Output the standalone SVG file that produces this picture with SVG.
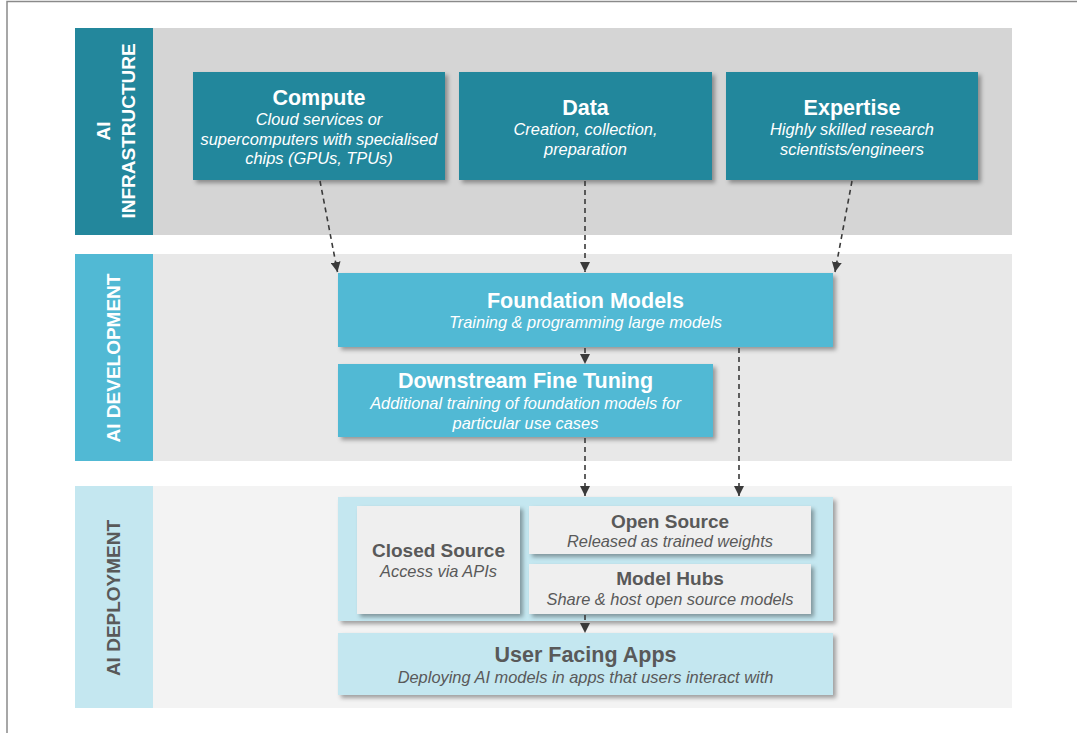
<svg xmlns="http://www.w3.org/2000/svg" width="1077" height="733" viewBox="0 0 1077 733">
<defs>
<filter id="sh" x="-10%" y="-10%" width="125%" height="135%">
<feDropShadow dx="3" dy="3" stdDeviation="2" flood-color="#000" flood-opacity="0.35"/>
</filter>
<marker id="ah" markerUnits="userSpaceOnUse" markerWidth="10" markerHeight="10" refX="10" refY="5" orient="auto">
<path d="M0,0 L10,5 L0,10 z" fill="#3a3a3a"/>
</marker>
</defs>
<style>
text{font-family:"Liberation Sans",Arial,sans-serif;text-anchor:middle}
.lbl{font-size:19px;font-weight:bold}
.t{font-size:21.5px;font-weight:bold;fill:#fff}
.s{font-size:16.4px;font-style:italic;fill:#fff}
.tg{font-size:19px;font-weight:bold;fill:#595959}
.tgl{font-size:21.5px;font-weight:bold;fill:#595959}
.sg{font-size:16.4px;font-style:italic;fill:#595959}
.c{stroke:#3a3a3a;stroke-width:1.6;stroke-dasharray:5 4;fill:none;marker-end:url(#ah)}
</style>
<rect width="1077" height="733" fill="#fff"/>
<path d="M7,733 V1.5 H1077" fill="none" stroke="#8a8a8a" stroke-width="1.5"/>

<g id="band-infrastructure">
<rect x="75" y="28" width="937" height="207" fill="#d5d5d5"/>
<rect x="75" y="28" width="78" height="207" fill="#23879c"/>
<text class="lbl" fill="#fff" transform="translate(110,131) rotate(-90)">AI</text>
<text class="lbl" fill="#fff" transform="translate(135,131) rotate(-90)">INFRASTRUCTURE</text>
</g>
<g id="band-development">
<rect x="75" y="254" width="937" height="207" fill="#e8e8e8"/>
<rect x="75" y="254" width="78" height="207" fill="#51b9d4"/>
<text class="lbl" fill="#fff" transform="translate(120,358) rotate(-90)">AI DEVELOPMENT</text>
</g>
<g id="band-deployment">
<rect x="75" y="486" width="937" height="222" fill="#f3f3f3"/>
<rect x="75" y="486" width="78" height="222" fill="#c4e7f0"/>
<text class="lbl" fill="#595959" transform="translate(120,598) rotate(-90)">AI DEPLOYMENT</text>
</g>

<g id="compute">
<rect x="193" y="72" width="252" height="108" fill="#23879c" filter="url(#sh)"/>
<text class="t" x="319" y="105">Compute</text>
<text class="s" x="319" y="125">Cloud services or</text>
<text class="s" x="319" y="144.5">supercomputers with specialised</text>
<text class="s" x="319" y="164">chips (GPUs, TPUs)</text>
</g>
<g id="data">
<rect x="459" y="72" width="253" height="108" fill="#23879c" filter="url(#sh)"/>
<text class="t" x="585.5" y="114.5">Data</text>
<text class="s" x="585.5" y="135">Creation, collection,</text>
<text class="s" x="585.5" y="154.5">preparation</text>
</g>
<g id="expertise">
<rect x="726" y="72" width="252" height="108" fill="#23879c" filter="url(#sh)"/>
<text class="t" x="852" y="114.5">Expertise</text>
<text class="s" x="852" y="135">Highly skilled research</text>
<text class="s" x="852" y="154.5">scientists/engineers</text>
</g>

<g id="foundation-models">
<rect x="338" y="273" width="495" height="74" fill="#51b9d4" filter="url(#sh)"/>
<text class="t" x="585.5" y="308.3">Foundation Models</text>
<text class="s" x="585.5" y="328.3">Training &amp; programming large models</text>
</g>
<g id="downstream-fine-tuning">
<rect x="338" y="364" width="375" height="73" fill="#51b9d4" filter="url(#sh)"/>
<text class="t" x="525.5" y="388.3">Downstream Fine Tuning</text>
<text class="s" x="525.5" y="409.3">Additional training of foundation models for</text>
<text class="s" x="525.5" y="428.5">particular use cases</text>
</g>

<g id="deployment-container">
<rect x="338" y="497" width="495" height="124" fill="#c4e7f0" filter="url(#sh)"/>
</g>
<g id="closed-source">
<rect x="357" y="506" width="163" height="108" fill="#efefef" filter="url(#sh)"/>
<text class="tg" x="438.5" y="557.3">Closed Source</text>
<text class="sg" x="438.5" y="577.3">Access via APIs</text>
</g>
<g id="open-source">
<rect x="529" y="506" width="282" height="48" fill="#efefef" filter="url(#sh)"/>
<text class="tg" x="670" y="527.7">Open Source</text>
<text class="sg" x="670" y="547.3">Released as trained weights</text>
</g>
<g id="model-hubs">
<rect x="529" y="564" width="282" height="50" fill="#efefef" filter="url(#sh)"/>
<text class="tg" x="670" y="585.3">Model Hubs</text>
<text class="sg" x="670" y="605">Share &amp; host open source models</text>
</g>
<g id="user-facing-apps">
<rect x="338" y="633" width="495" height="62" fill="#c4e7f0" filter="url(#sh)"/>
<text class="tgl" x="585.5" y="662.3">User Facing Apps</text>
<text class="sg" x="585.5" y="682.7">Deploying AI models in apps that users interact with</text>
</g>

<g id="connectors">
<line class="c" x1="320" y1="181" x2="337.5" y2="272"/>
<line class="c" x1="585" y1="181" x2="585" y2="272"/>
<line class="c" x1="852" y1="181" x2="835" y2="272"/>
<line class="c" x1="585" y1="348" x2="585" y2="364"/>
<line class="c" x1="739" y1="348" x2="739" y2="496"/>
<line class="c" x1="585" y1="438" x2="585" y2="496"/>
<line class="c" x1="585" y1="615" x2="585" y2="633"/>
</g>
</svg>
